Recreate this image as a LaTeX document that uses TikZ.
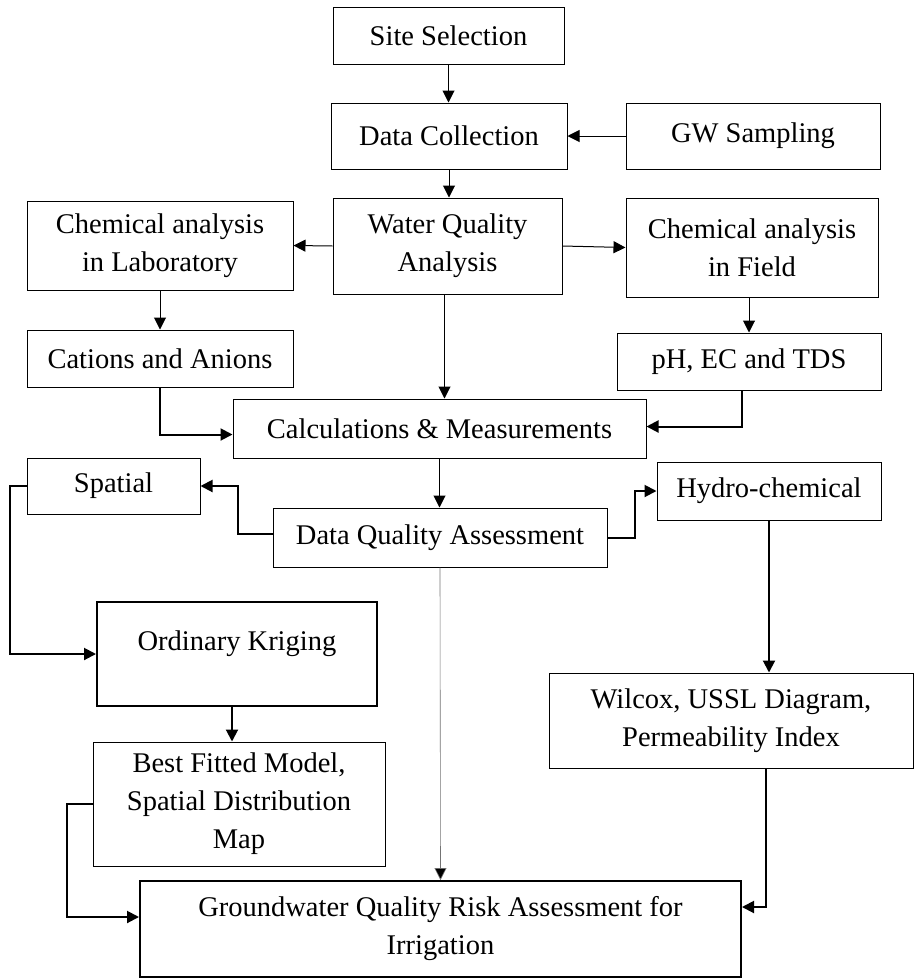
\documentclass[tikz,border=0pt]{standalone}
\usepackage{fontspec}
\setmainfont{Liberation Serif}
\usepackage{tikz}
\usetikzlibrary{arrows.meta, positioning}
\tikzstyle{block} = [rectangle, draw, fill=white, line width=1pt,
                 inner sep=0pt, align=center]
\tikzstyle{bigblock} = [block, line width=2pt]
\tikzstyle{link} = [line width=1pt, draw, -{Triangle[length=12pt, width=12pt]}]
\tikzstyle{branch} = [line width=2pt, draw, -{Triangle[length=12pt, width=12pt]}]
\tikzset{
	faint/.style={line width=0.6pt, draw=black!55,
		-{Triangle[length=12pt, width=12pt, fill=black]}},
}

\begin{document}
\begin{tikzpicture}[x=1pt, y=-1pt, font=\fontsize{28.5}{38}\selectfont]

\useasboundingbox (0,0) rectangle (914,978);

% first column of steps
\node [block, minimum width=231pt, minimum height=57pt] at (448.5,35.5) (site) {Site Selection};
\node [block, minimum width=236pt, minimum height=66pt] at (449,136) (collect) {Data Collection};
\node [block, minimum width=254pt, minimum height=66pt] at (753,136) (sampling) {GW Sampling};
\node [block, minimum width=229pt, minimum height=96pt] at (447.5,246) (wqa) {Water Quality\\Analysis};
\node [block, minimum width=266pt, minimum height=89pt] at (160,245.5) (lab) {Chemical analysis\\in Laboratory};
\node [block, minimum width=252pt, minimum height=99pt] at (752,247.5) (field) {Chemical analysis\\in Field};
\node [block, minimum width=266pt, minimum height=57pt] at (160,358.5) (ions) {Cations and Anions};
\node [block, minimum width=264pt, minimum height=57pt] at (749,361.5) (phec) {pH, EC and TDS};
\node [block, minimum width=413pt, minimum height=59pt] at (439.5,428.5) (calc) {Calculations \& Measurements};

% assessment branches
\node [block, minimum width=173pt, minimum height=56pt] at (113.5,486) (spatial) {Spatial};
\node [block, minimum width=334pt, minimum height=59pt] at (440,537.5) (dqa) {Data Quality Assessment};
\node [block, minimum width=224pt, minimum height=58pt] at (769,491) (hydro) {Hydro-chemical};
\node [bigblock, align=left, text depth=27pt, minimum width=280pt, minimum height=104pt] at (237,654) (kriging) {Ordinary Kriging};
\node [block, minimum width=292pt, minimum height=124pt] at (239,804) (model) {Best Fitted Model,\\Spatial Distribution\\Map};
\node [block, minimum width=364pt, minimum height=95pt] at (731,720.5) (wilcox) {Wilcox, USSL Diagram,\\Permeability Index};
\node [bigblock, minimum width=601pt, minimum height=96pt] at (440.5,929) (risk) {Groundwater Quality Risk Assessment for\\Irrigation};

\path [link] (site.south) -- (site.south |- collect.north);
\path [link] (sampling.west) -- (collect.east);
\path [link] (collect.south) -- (collect.south |- wqa.north);
\path [link] (wqa.west) -- (lab.east);
\path [link] (wqa.east) -- (field.west);
\path [link] (lab.south) -- (ions.north);
\path [link] (field.south -| phec.north) -- (phec.north);
\path [link] ([xshift=-3pt]wqa.south) -- ([xshift=-3pt]wqa.south |- calc.north);
\path [link] (calc.south) -- (calc.south |- dqa.north);
\path [faint] (dqa.south) -- (risk.north);

\path [branch] (ions.south) |- ([yshift=-6pt]calc.west);
\path [branch] ([xshift=-7pt]phec.south) |- ([yshift=2pt]calc.east);
\path [branch] ([yshift=4pt]dqa.west) -- ++(-35,0) |- (spatial.east);
\path [branch] (dqa.east) -- ++(27,0) |- (hydro.west);
\path [branch] (spatial.west) -- ++(-17,0) |- (kriging.west);
\path [branch] (hydro.south) -- (hydro.south |- wilcox.north);
\path [branch] ([xshift=-5pt]kriging.south) -- ([xshift=-5pt]kriging.south |- model.north);
\path [branch] (model.west) -- ++(-26,0) |- ([yshift=12pt]risk.west);
\path [branch] ([xshift=35pt]wilcox.south) |- ([yshift=22pt]risk.east);

\end{tikzpicture}
\end{document}
